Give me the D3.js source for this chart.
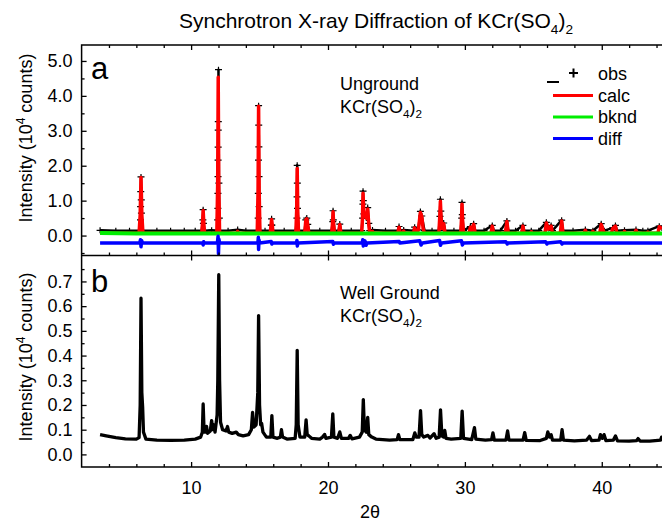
<!DOCTYPE html>
<html>
<head>
<meta charset="utf-8">
<script src="https://cdn.jsdelivr.net/npm/d3@7"></script>
<style>
body { margin: 0; background: #fff; }
svg { font-family: "Liberation Sans", Arial, sans-serif; }
</style>
</head>
<body>
<div id="chart"></div>
<script>
// ===============================
// Data
// ===============================

// x ticks (2 theta)
const xMajorTicks = [10, 20, 30, 40];
const xMinorTicks = [4, 6, 8, 12, 14, 16, 18, 22, 24, 26, 28, 32, 34, 36, 38, 42, 44];

// panel a ticks (10^4 counts)
const yMajorTicksA = [0, 1, 2, 3, 4, 5];
const yMinorTicksA = [-0.5, 0.5, 1.5, 2.5, 3.5, 4.5];

// panel b ticks
const yMajorTicksB = [0, 0.1, 0.2, 0.3, 0.4, 0.5, 0.6, 0.7];
const yMinorTicksB = [0.05, 0.15, 0.25, 0.35, 0.45, 0.55, 0.65, 0.75];

const legendNames = ["obs", "calc", "bknd", "diff"];

// panel a, unground sample : observed points [2theta, I]
const obsA = [
    [3.35,0.15],[4.5,0.14],[5.5,0.14],[6.2,0.14],[6.3,0.45],[6.31,0.83],[6.32,1.26],[6.34,1.68],[6.36,1.02],[6.37,0.64],[6.48,0.14],
    [7.5,0.14],[8.5,0.14],[9.5,0.14],[10.3,0.14],[10.78,0.14],[10.86,0.45],[10.88,0.74],[10.9,0.35],[10.98,0.14],[11.5,0.15],
    [11.9,0.14],[11.94,0.45],[11.955,0.78],[11.96,1.21],[11.965,1.69],[11.97,2.16],[11.975,2.53],[11.98,3.02],[11.985,3.26],[12.0,4.75],
    [12.03,1.5],[12.06,0.5],[12.1,0.14],[12.7,0.14],[13.4,0.17],[14.0,0.14],
    [14.83,0.14],[14.9,0.5],[14.91,1.21],[14.92,2.16],[14.93,3.72],[14.94,3.16],[14.95,2.54],[14.96,1.69],[14.97,0.83],[15.03,0.14],
    [15.4,0.14],[15.78,0.14],[15.86,0.3],[15.88,0.48],[15.9,0.3],[15.98,0.14],[16.8,0.14],
    [17.65,0.14],[17.73,0.5],[17.74,1.11],[17.75,2.01],[17.76,1.5],[17.77,0.78],[17.85,0.14],
    [18.3,0.14],[18.38,0.45],[18.45,0.5],[18.52,0.32],[18.6,0.14],[19.4,0.14],
    [20.27,0.14],[20.35,0.4],[20.37,0.71],[20.39,0.45],[20.47,0.14],[20.78,0.14],[20.86,0.33],[20.94,0.14],[21.7,0.14],
    [22.46,0.14],[22.53,0.5],[22.55,0.9],[22.56,1.27],[22.58,1.0],[22.62,0.62],[22.8,0.5],[22.9,0.8],[22.98,0.35],[23.05,0.14],
    [23.25,0.16],[24.2,0.14],[25.1,0.14],[25.19,0.26],[25.28,0.14],[25.53,0.16],[26.25,0.14],[26.33,0.24],[26.6,0.16],[26.75,0.69],
    [26.85,0.56],[27.05,0.14],[27.6,0.14],[28.1,0.14],[28.18,0.55],[28.21,1.04],[28.24,0.7],[28.35,0.22],[28.45,0.36],[28.55,0.14],
    [29.2,0.14],[29.7,0.14],[29.77,0.5],[29.79,0.95],[29.81,0.6],[29.9,0.14],[30.4,0.26],[30.52,0.16],[30.64,0.34],[30.75,0.14],
    [31.4,0.14],[32.0,0.29],[32.1,0.14],[32.6,0.14],[33.07,0.42],[33.17,0.14],[33.7,0.14],[34.24,0.29],[34.33,0.14],[34.85,0.14],
    [35.4,0.14],[35.95,0.38],[36.1,0.2],[36.3,0.29],[36.4,0.14],[37.07,0.44],[37.17,0.14],[37.9,0.14],[38.8,0.17],[39.35,0.14],
    [39.96,0.34],[40.1,0.17],[40.2,0.14],[40.8,0.22],[41.0,0.29],[41.1,0.14],[41.66,0.15],[42.5,0.17],[43.0,0.14],[43.37,0.14],
    [44.2,0.27],[44.4,0.22]
];

// panel a : calculated profile
const calcA = [
    [3.35,0.065],[6.2,0.065],[6.28,0.6],[6.34,1.66],[6.40,0.6],[6.48,0.065],
    [10.78,0.065],[10.84,0.4],[10.88,0.72],[10.92,0.4],[10.98,0.065],
    [11.88,0.065],[11.94,1.5],[11.98,4.53],[12.02,1.5],[12.08,0.065],
    [13.35,0.065],[13.4,0.12],[13.45,0.065],
    [14.83,0.065],[14.89,1.3],[14.93,3.70],[14.97,1.3],[15.03,0.065],
    [15.78,0.065],[15.84,0.3],[15.88,0.46],[15.93,0.3],[15.98,0.065],
    [17.65,0.065],[17.71,0.7],[17.75,1.92],[17.79,0.7],[17.85,0.065],
    [18.3,0.065],[18.38,0.45],[18.45,0.48],[18.52,0.3],[18.6,0.065],
    [20.27,0.065],[20.33,0.35],[20.37,0.68],[20.41,0.35],[20.47,0.065],
    [20.78,0.065],[20.86,0.32],[20.94,0.065],
    [22.46,0.065],[22.52,0.5],[22.56,1.21],[22.62,0.6],[22.8,0.5],[22.9,0.76],[22.98,0.3],[23.05,0.065],
    [23.2,0.065],[23.25,0.12],[23.3,0.065],
    [25.1,0.065],[25.19,0.24],[25.28,0.065],[25.45,0.065],[25.53,0.13],[25.6,0.065],
    [26.25,0.065],[26.33,0.22],[26.42,0.1],[26.6,0.15],[26.75,0.66],[26.85,0.55],[26.95,0.2],[27.05,0.065],
    [28.1,0.065],[28.16,0.5],[28.21,0.98],[28.26,0.5],[28.35,0.2],[28.45,0.34],[28.55,0.065],
    [29.7,0.065],[29.75,0.45],[29.79,0.90],[29.83,0.45],[29.9,0.065],
    [30.3,0.065],[30.4,0.24],[30.5,0.15],[30.64,0.32],[30.75,0.065],
    [31.9,0.065],[32.0,0.27],[32.1,0.065],[32.95,0.065],[33.07,0.40],[33.17,0.065],
    [34.15,0.065],[34.24,0.27],[34.33,0.065],[34.8,0.065],[34.85,0.11],[34.9,0.065],
    [35.85,0.065],[35.95,0.36],[36.1,0.18],[36.3,0.27],[36.4,0.065],[36.97,0.065],[37.07,0.42],[37.17,0.065],
    [38.7,0.065],[38.8,0.15],[38.9,0.065],[39.3,0.065],[39.35,0.12],[39.45,0.065],
    [39.85,0.065],[39.96,0.32],[40.1,0.15],[40.2,0.065],[40.7,0.065],[40.8,0.2],[41.0,0.27],[41.1,0.065],
    [41.6,0.065],[41.66,0.12],[41.75,0.065],[42.4,0.065],[42.5,0.15],[42.6,0.065],
    [43.3,0.065],[43.37,0.1],[43.45,0.065],[44.1,0.065],[44.2,0.25],[44.4,0.2]
];

// panel a : background
const bkndA = [[3.35,0.07],[6,0.06],[15,0.06],[30,0.06],[44.4,0.06]];

// panel a : difference curve (offset)
const diffA = [
    [3.35,-0.21],[6.25,-0.21],[6.3,-0.12],[6.34,-0.32],[6.38,-0.14],[6.45,-0.21],[10.85,-0.21],[10.88,-0.27],[10.92,-0.18],[10.95,-0.21],
    [11.92,-0.21],[11.97,-0.02],[12.0,-0.52],[12.03,-0.1],[12.08,-0.21],[14.88,-0.21],[14.91,-0.05],[14.93,-0.4],[14.96,-0.12],[15.0,-0.21],
    [15.85,-0.17],[15.9,-0.24],[15.95,-0.21],[17.7,-0.21],[17.73,-0.14],[17.76,-0.3],[17.8,-0.21],[20.35,-0.17],[20.4,-0.25],[20.45,-0.21],
    [22.5,-0.21],[22.54,-0.12],[22.58,-0.3],[22.7,-0.15],[22.78,-0.28],[22.85,-0.21],[25.2,-0.17],[25.25,-0.21],[26.7,-0.15],[26.8,-0.27],
    [26.9,-0.21],[28.15,-0.14],[28.22,-0.28],[28.3,-0.21],[29.75,-0.15],[29.82,-0.27],[29.9,-0.21],[33.0,-0.18],[33.1,-0.24],[33.15,-0.21],
    [35.9,-0.18],[36.0,-0.24],[36.05,-0.21],[37.0,-0.18],[37.1,-0.24],[37.15,-0.21],[44.4,-0.21]
];

// panel b, well ground sample
const obsB = [
    [3.35,0.080],[3.8,0.075],[4.5,0.068],[5.2,0.063],[6.0,0.062],[6.2,0.068],[6.28,0.2],[6.34,0.632],[6.4,0.25],[6.46,0.19],[6.52,0.09],
    [6.7,0.062],[7.5,0.058],[8.5,0.057],[9.5,0.058],[10.3,0.062],[10.7,0.07],[10.82,0.09],[10.88,0.204],[10.95,0.09],[11.05,0.09],
    [11.13,0.113],[11.2,0.085],[11.4,0.095],[11.5,0.137],[11.58,0.1],[11.66,0.12],[11.75,0.09],[11.9,0.16],[11.95,0.3],[12.02,0.727],
    [12.08,0.3],[12.15,0.13],[12.3,0.1],[12.55,0.095],[12.66,0.113],[12.75,0.09],[13.0,0.085],[13.3,0.09],[13.45,0.08],[13.8,0.075],
    [14.2,0.08],[14.4,0.1],[14.49,0.17],[14.58,0.11],[14.75,0.12],[14.87,0.25],[14.93,0.562],[15.0,0.2],[15.08,0.12],[15.15,0.126],
    [15.25,0.09],[15.5,0.07],[15.82,0.07],[15.9,0.157],[15.98,0.07],[16.3,0.065],[16.52,0.07],[16.6,0.1],[16.68,0.07],[17.0,0.062],
    [17.6,0.065],[17.68,0.12],[17.75,0.421],[17.82,0.12],[17.95,0.07],[18.3,0.07],[18.4,0.14],[18.48,0.08],[18.6,0.075],[18.8,0.065],
    [19.4,0.062],[19.6,0.07],[19.75,0.081],[19.85,0.065],[20.25,0.07],[20.35,0.164],[20.43,0.07],[20.7,0.065],[20.86,0.091],[20.98,0.065],
    [21.5,0.065],[21.62,0.077],[21.75,0.063],[22.3,0.07],[22.5,0.09],[22.58,0.222],[22.66,0.1],[22.8,0.09],[22.9,0.15],[22.98,0.08],
    [23.2,0.07],[23.5,0.062],[24.5,0.058],[25.05,0.06],[25.15,0.08],[25.25,0.06],[26.2,0.06],[26.34,0.087],[26.45,0.07],[26.65,0.07],
    [26.76,0.177],[26.85,0.08],[27.0,0.07],[27.3,0.077],[27.45,0.066],[27.75,0.084],[27.9,0.065],[28.12,0.07],[28.22,0.18],[28.32,0.075],
    [28.45,0.07],[28.53,0.097],[28.62,0.065],[29.0,0.062],[29.7,0.065],[29.8,0.175],[29.9,0.065],[30.5,0.06],[30.7,0.108],[30.8,0.062],
    [31.5,0.058],[31.95,0.06],[32.05,0.087],[32.15,0.058],[33.0,0.058],[33.12,0.095],[33.22,0.058],[34.25,0.058],[34.37,0.088],[34.48,0.057],
    [35.5,0.056],[35.95,0.065],[36.06,0.091],[36.18,0.07],[36.3,0.08],[36.4,0.058],[37.0,0.058],[37.1,0.1],[37.2,0.058],[38.0,0.055],
    [38.9,0.058],[39.1,0.073],[39.25,0.056],[39.8,0.058],[39.9,0.08],[40.05,0.065],[40.17,0.08],[40.3,0.056],[40.85,0.058],[41.0,0.075],
    [41.15,0.055],[42.0,0.054],[42.55,0.056],[42.65,0.064],[42.8,0.054],[43.5,0.054],[44.3,0.058],[44.37,0.07],[44.4,0.065]
];

// ===============================
// Layout and scales
// ===============================
const W = 662, H = 522;
const gauche = 81.6, droite = 662;
const hautA = 45, milieu = 255.5, basB = 467;
const taille = 18;

const svg = d3.select("#chart").append("svg").attr("width", W).attr("height", H);

const x = d3.scaleLinear().domain([2, 44.4]).range([gauche, droite]);
const yA = d3.scaleLinear().domain([-0.571, 5.457]).range([milieu, hautA]);
const yB = d3.scaleLinear().domain([-0.051, 0.805]).range([basB, milieu]);

const defs = svg.append("defs");
defs.append("clipPath").attr("id", "clipA").append("rect")
    .attr("x", gauche).attr("y", hautA).attr("width", droite - gauche).attr("height", milieu - hautA);
defs.append("clipPath").attr("id", "clipB").append("rect")
    .attr("x", gauche).attr("y", milieu).attr("width", droite - gauche).attr("height", basB - milieu);

// adds "KCr(SO4)2" with subscripts to a text element
function ajouteFormule(t, fs) {
    t.append("tspan").text("KCr(SO");
    t.append("tspan").attr("dy", fs * 0.3).attr("font-size", fs * 0.65).text("4");
    t.append("tspan").attr("dy", -fs * 0.3).text(")");
    t.append("tspan").attr("dy", fs * 0.3).attr("font-size", fs * 0.65).text("2");
}

function tracerCourbe(g, data, y, couleur, epaisseur) {
    const ligne = d3.line().x(d => x(d[0])).y(d => y(d[1]));
    g.append("path").datum(data)
        .attr("d", ligne)
        .attr("fill", "none")
        .attr("stroke", couleur)
        .attr("stroke-width", epaisseur)
        .attr("stroke-linejoin", "round");
}

// ===============================
// Panel a
// ===============================
const gA = svg.append("g").attr("clip-path", "url(#clipA)");

tracerCourbe(gA, obsA, yA, "#000", 2.5);
gA.selectAll("path.obs").data(obsA).enter().append("path")
    .attr("class", "obs")
    .attr("d", d => `M${x(d[0]) - 3.5},${yA(d[1])}h7M${x(d[0])},${yA(d[1]) - 3}v6`)
    .attr("stroke", "#000").attr("stroke-width", 1.2);
tracerCourbe(gA, calcA, yA, "#ff0000", 3.5);
tracerCourbe(gA, bkndA, yA, "#00ee00", 4);
tracerCourbe(gA, diffA, yA, "#0000ff", 3.5);

// ===============================
// Panel b
// ===============================
const gB = svg.append("g").attr("clip-path", "url(#clipB)");
tracerCourbe(gB, obsB, yB, "#000", 3.3);

// ===============================
// Axes
// ===============================
function axe(gen, ty) {
    const g = svg.append("g").attr("transform", `translate(0,${ty})`).call(gen);
    g.select(".domain").remove();
    g.selectAll("line").attr("stroke", "#000").attr("stroke-width", 1.3);
    return g;
}

// top of a
axe(d3.axisTop(x).tickValues(xMajorTicks).tickSize(-5).tickFormat(""), hautA);
axe(d3.axisTop(x).tickValues(xMinorTicks).tickSize(-3).tickFormat(""), hautA);
// bottom of a (ticks up)
axe(d3.axisBottom(x).tickValues(xMajorTicks).tickSize(-5).tickFormat(""), milieu);
axe(d3.axisBottom(x).tickValues(xMinorTicks).tickSize(-3).tickFormat(""), milieu);
// top of b (major ticks down)
axe(d3.axisTop(x).tickValues(xMajorTicks).tickSize(-5).tickFormat(""), milieu);
// bottom of b with labels
const axeX = axe(d3.axisBottom(x).tickValues(xMajorTicks).tickSize(-5).tickPadding(14), basB);
axeX.selectAll("text").attr("font-size", taille).attr("fill", "#000");
axe(d3.axisBottom(x).tickValues(xMinorTicks).tickSize(-3).tickFormat(""), basB);

function axeY(y, majeurs, mineurs) {
    const g = svg.append("g").attr("transform", `translate(${gauche},0)`)
        .call(d3.axisLeft(y).tickValues(majeurs).tickSize(-5).tickPadding(9).tickFormat(d3.format(".1f")));
    g.select(".domain").remove();
    g.selectAll("line").attr("stroke", "#000").attr("stroke-width", 1.3);
    g.selectAll("text").attr("font-size", taille).attr("fill", "#000");
    const m = svg.append("g").attr("transform", `translate(${gauche},0)`)
        .call(d3.axisLeft(y).tickValues(mineurs).tickSize(-3).tickFormat(""));
    m.select(".domain").remove();
    m.selectAll("line").attr("stroke", "#000").attr("stroke-width", 1.3);
}
axeY(yA, yMajorTicksA, yMinorTicksA);
axeY(yB, yMajorTicksB, yMinorTicksB);

// frame lines
svg.append("path")
    .attr("d", `M${droite},${hautA}H${gauche}V${basB}H${droite}M${gauche},${milieu}H${droite}`)
    .attr("fill", "none").attr("stroke", "#000").attr("stroke-width", 1.5);

// ===============================
// Texts
// ===============================
const titre = svg.append("text").attr("x", 376).attr("y", 28)
    .attr("text-anchor", "middle").attr("font-size", 21);
titre.append("tspan").text("Synchrotron X-ray Diffraction of ");
ajouteFormule(titre, 21);

function labelY(cy) {
    const t = svg.append("text")
        .attr("transform", `translate(32,${cy}) rotate(-90)`)
        .attr("text-anchor", "middle").attr("font-size", taille);
    t.append("tspan").text("Intensity (10");
    t.append("tspan").attr("dy", -7).attr("font-size", 12).text("4");
    t.append("tspan").attr("dy", 7).text(" counts)");
}
labelY(138);
labelY(357);

svg.append("text").attr("x", 370).attr("y", 518).attr("text-anchor", "middle")
    .attr("font-size", taille).text("2θ");

svg.append("text").attr("x", 91).attr("y", 79).attr("font-size", 31).text("a");
svg.append("text").attr("x", 91).attr("y", 292).attr("font-size", 31).text("b");

svg.append("text").attr("x", 340).attr("y", 90).attr("font-size", taille).text("Unground");
ajouteFormule(svg.append("text").attr("x", 340).attr("y", 113).attr("font-size", taille), taille);
svg.append("text").attr("x", 340).attr("y", 299).attr("font-size", taille).text("Well Ground");
ajouteFormule(svg.append("text").attr("x", 340).attr("y", 322).attr("font-size", taille), taille);

// legend
const couleursLegende = [null, "#ff0000", "#00ee00", "#0000ff"];
const leg = svg.append("g");
legendNames.forEach((nom, i) => {
    const yb = 80 + i * 21.5;
    leg.append("text").attr("x", 598).attr("y", yb).attr("font-size", taille).text(nom);
    if (couleursLegende[i]) {
        leg.append("line").attr("x1", 553).attr("x2", 593).attr("y1", yb - 6).attr("y2", yb - 6)
            .attr("stroke", couleursLegende[i]).attr("stroke-width", 3);
    }
});
leg.append("path").attr("d", "M569,73h9M573.5,68.5v9").attr("stroke", "#000").attr("stroke-width", 2);
leg.append("line").attr("x1", 547).attr("x2", 559).attr("y1", 82).attr("y2", 82)
    .attr("stroke", "#000").attr("stroke-width", 2);
</script>
</body>
</html>
